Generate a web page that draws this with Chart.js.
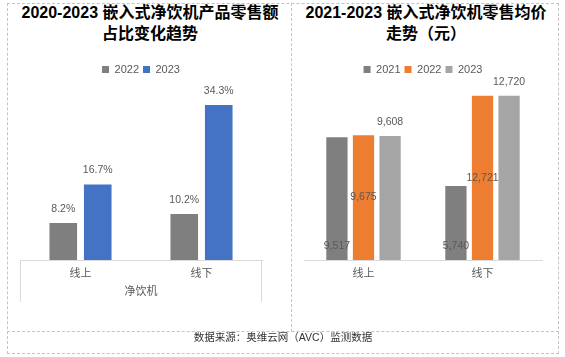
<!DOCTYPE html>
<html>
<head>
<meta charset="utf-8">
<script src="https://cdn.jsdelivr.net/npm/chart.js@4.4.1/dist/chart.umd.min.js"></script>
<style>
  html, body { margin:0; padding:0; background:#fff; }
  #wrap { position:relative; width:565px; height:357px; overflow:hidden; font-family:"Liberation Sans","Noto Sans CJK SC",sans-serif; }
  .frame { position:absolute; left:7px; top:3px; width:552px; height:351px; box-sizing:border-box; border:1px dashed #c4c4c4; }
  .vdiv { position:absolute; left:291px; top:3px; height:329px; border-left:1px dashed #c4c4c4; }
  .hdiv { position:absolute; left:7px; top:331px; width:552px; border-top:1px dashed #c4c4c4; }
  .title { position:absolute; top:2px; text-align:center; font-weight:bold; font-size:16px; line-height:21px; color:#000; }
  .foot { position:absolute; left:0; width:566px; top:330px; text-align:center; font-size:10.5px; line-height:14px; color:#333; }
  canvas { position:absolute; }
</style>
</head>
<body>
<div id="wrap">
  <div class="frame"></div>
  <div class="vdiv"></div>
  <div class="hdiv"></div>
  <div class="title" id="t1" style="left:8px;width:284px;"></div>
  <div class="title" id="t2" style="left:293px;width:266px;"></div>
  <canvas id="c1" width="284" height="272" style="left:8px;top:60px;"></canvas>
  <canvas id="c2" width="265" height="272" style="left:293px;top:60px;"></canvas>
  <div class="foot" id="foot"></div>
</div>
<script>
// ---- data ----
const leftTitleLines = ['2020-2023 嵌入式净饮机产品零售额', '占比变化趋势'];
const leftCategories = ['线上', '线下'];
const leftGroupLabel = '净饮机';
const leftSeriesNames = ['2022', '2023'];
const share2022 = [8.2, 10.2];
const share2023 = [16.7, 34.3];

const rightTitleLines = ['2021-2023 嵌入式净饮机零售均价', '走势（元）'];
const rightCategories = ['线上', '线下'];
const rightSeriesNames = ['2021', '2022', '2023'];
const price2021 = [9517, 5740];
const price2022 = [9675, 12721];
const price2023 = [9608, 12720];

const sourceNote = '数据来源：奥维云网（AVC）监测数据';

// ---- text ----
document.getElementById('t1').innerHTML = leftTitleLines.join('<br>');
document.getElementById('t2').innerHTML = rightTitleLines.join('<br>');
document.getElementById('foot').textContent = sourceNote;

const FONT = '"Liberation Sans","Noto Sans CJK SC",sans-serif';
Chart.defaults.font.family = FONT;
Chart.defaults.color = '#595959';
Chart.defaults.animation = false;

const barLabels = {
  id: 'barLabels',
  afterDatasetsDraw(chart, args, opts) {
    const ctx = chart.ctx;
    ctx.save();
    ctx.font = '10.5px ' + FONT;
    ctx.fillStyle = '#595959';
    ctx.textAlign = 'center';
    ctx.textBaseline = 'middle';
    chart.data.datasets.forEach((ds, di) => {
      const meta = chart.getDatasetMeta(di);
      meta.data.forEach((bar, i) => {
        const pos = opts.positions[di];
        let y;
        if (pos === 'end') y = bar.y - 14;
        else if (pos === 'center') y = (bar.y + bar.base) / 2;
        else y = bar.base - 14;
        ctx.fillText(opts.format(ds.data[i]), bar.x, y);
      });
    });
    ctx.restore();
  }
};

const groupAxis = {
  id: 'groupAxis',
  afterDraw(chart, args, opts) {
    if (!opts.label) return;
    const ctx = chart.ctx;
    const a = chart.chartArea;
    ctx.save();
    ctx.strokeStyle = '#d9d9d9';
    ctx.lineWidth = 1;
    ctx.beginPath();
    ctx.moveTo(Math.round(a.left) + 0.5, a.bottom);
    ctx.lineTo(Math.round(a.left) + 0.5, a.bottom + 42);
    ctx.moveTo(Math.round(a.right) - 0.5, a.bottom);
    ctx.lineTo(Math.round(a.right) - 0.5, a.bottom + 42);
    ctx.stroke();
    ctx.font = '11px ' + FONT;
    ctx.fillStyle = '#595959';
    ctx.textAlign = 'center';
    ctx.textBaseline = 'middle';
    ctx.fillText(opts.label, (a.left + a.right) / 2, a.bottom + 32);
    ctx.restore();
  }
};

function makeOptions(padL, padR, yMax, positions, format, group) {
  return {
    responsive: false,
    devicePixelRatio: 1,
    layout: { padding: { left: padL, right: padR, top: 0, bottom: 22 } },
    plugins: {
      title: { display: false },
      tooltip: { enabled: false },
      legend: {
        position: 'top',
        labels: { boxWidth: 7, boxHeight: 7, padding: 4, font: { size: 11 }, color: '#595959' }
      },
      barLabels: { positions, format },
      groupAxis: { label: group }
    },
    scales: {
      x: {
        grid: { display: false, drawTicks: false },
        border: { display: true, color: '#d9d9d9', width: 1 },
        ticks: { padding: 7, font: { size: 11 }, color: '#595959' },
        afterFit(scale) { scale.height = 50; }
      },
      y: { display: false, min: 0, max: yMax }
    }
  };
}

new Chart(document.getElementById('c1'), {
  type: 'bar',
  data: {
    labels: leftCategories,
    datasets: [
      { label: leftSeriesNames[0], data: share2022, backgroundColor: '#7F7F7F', categoryPercentage: 0.57, barPercentage: 0.8 },
      { label: leftSeriesNames[1], data: share2023, backgroundColor: '#4472C4', categoryPercentage: 0.57, barPercentage: 0.8 }
    ]
  },
  options: makeOptions(12, 30, 38.7, ['end', 'end'], v => v.toFixed(1) + '%', leftGroupLabel),
  plugins: [barLabels, groupAxis]
});

new Chart(document.getElementById('c2'), {
  type: 'bar',
  data: {
    labels: rightCategories,
    datasets: [
      { label: rightSeriesNames[0], data: price2021, backgroundColor: '#7F7F7F', categoryPercentage: 0.67, barPercentage: 0.8 },
      { label: rightSeriesNames[1], data: price2022, backgroundColor: '#ED7D31', categoryPercentage: 0.67, barPercentage: 0.8 },
      { label: rightSeriesNames[2], data: price2023, backgroundColor: '#A5A5A5', categoryPercentage: 0.67, barPercentage: 0.8 }
    ]
  },
  options: makeOptions(11, 16, 13560, ['base', 'center', 'end'], v => v.toLocaleString('en-US'), null),
  plugins: [barLabels, groupAxis]
});
</script>
</body>
</html>
